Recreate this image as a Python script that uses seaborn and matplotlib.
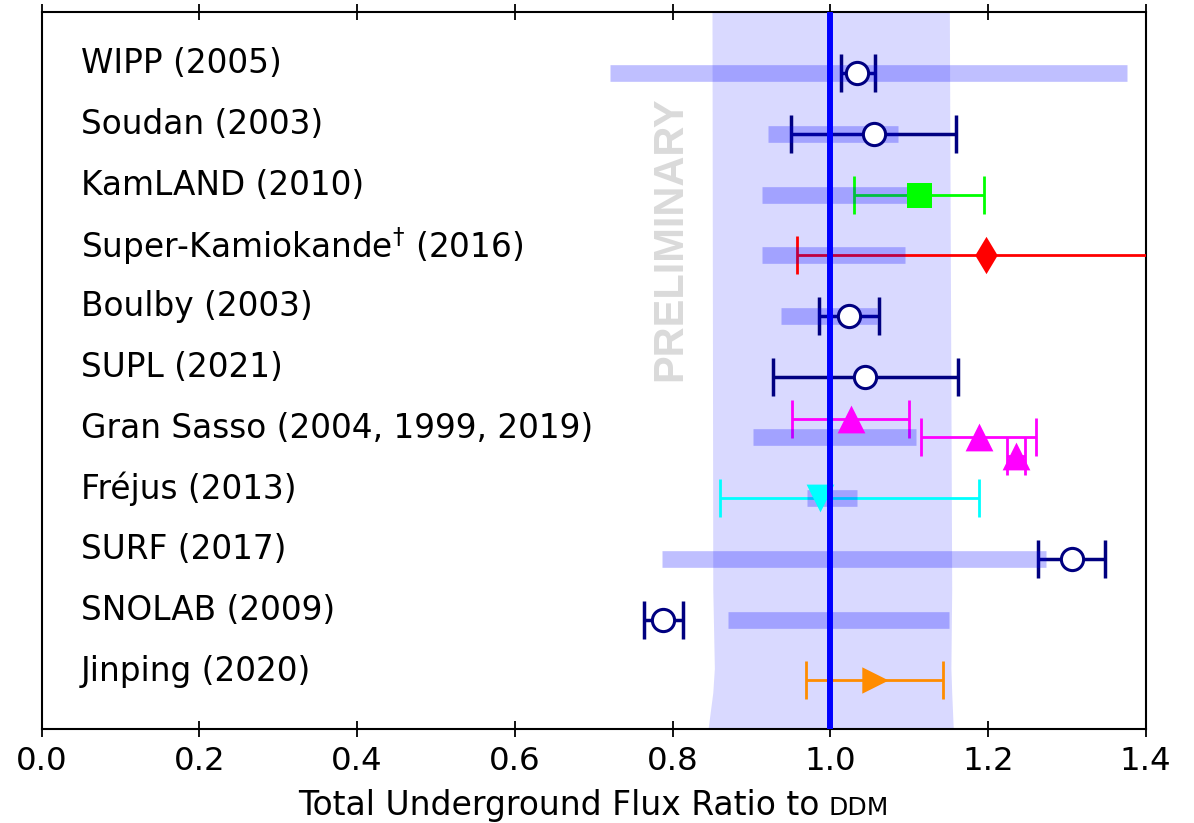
import numpy as np
import pandas as pd
import matplotlib
matplotlib.use("Agg")
import matplotlib.pyplot as plt
import seaborn as sns
from matplotlib.offsetbox import TextArea, HPacker, AnchoredOffsetbox

# ---------------- data ----------------
sites = ["WIPP (2005)", "Soudan (2003)", "KamLAND (2010)",
         "Super-Kamiokande$^{\\dagger}$ (2016)", "Boulby (2003)", "SUPL (2021)",
         "Gran Sasso (2004, 1999, 2019)", "Fréjus (2013)", "SURF (2017)",
         "SNOLAB (2009)", "Jinping (2020)"]

# model prediction ranges (light blue bars); NaN = none shown
model_lo = [0.721, 0.921, 0.914, 0.914, 0.938, np.nan, 0.902, 0.970, 0.786, 0.870, np.nan]
model_hi = [1.376, 1.086, 1.100, 1.095, 1.059, np.nan, 1.109, 1.034, 1.273, 1.151, np.nan]

# measurements
meas_row = [0, 1, 2, 3, 4, 5, 6, 6, 6, 7, 8, 9, 10]
meas_shift = [0, 0, 0, 0, 0, 0, -0.31, 0, 0.31, 0, 0, 0, 0]
meas_val = [1.034, 1.056, 1.112, 1.198, 1.024, 1.044, 1.026, 1.188, 1.236, 0.987, 1.307, 0.788, 1.057]
meas_lo = [1.013, 0.950, 1.030, 0.958, 0.986, 0.927, 0.952, 1.115, 1.224, 0.860, 1.264, 0.764, 0.969]
meas_hi = [1.057, 1.160, 1.195, 1.450, 1.062, 1.162, 1.100, 1.261, 1.247, 1.188, 1.348, 0.813, 1.143]
meas_kind = ["open", "open", "square", "diamond", "open", "open",
             "up", "up", "up", "down", "open", "open", "right"]

# reference band edges
band_y = [-1.0, 8.5, 9.8, 10.2, 10.5, 10.8]
band_lo = [0.850, 0.851, 0.853, 0.851, 0.848, 0.845]
band_hi = [1.151, 1.154, 1.153, 1.154, 1.155, 1.156]

xticks = [0.0, 0.2, 0.4, 0.6, 0.8, 1.0, 1.2, 1.4]

# ---------------- style ----------------
kind_style = {
    "open":    dict(marker="o", color="#000080", s=16**2, lw=2.5, face="white"),
    "square":  dict(marker="s", color="#00ff00", s=18**2, lw=2.0, face=None),
    "diamond": dict(marker="d", color="#ff0000", s=19**2, lw=2.0, face=None),
    "up":      dict(marker="^", color="#ff00ff", s=20**2, lw=2.0, face=None),
    "down":    dict(marker="v", color="#00ffff", s=20**2, lw=2.0, face=None),
    "right":   dict(marker=">", color="#ff8c00", s=19**2, lw=2.0, face=None),
}

sns.set_theme(style="white")
plt.rcParams["font.family"] = ["DejaVu Sans"]
plt.rcParams["mathtext.fontset"] = "dejavusans"
plt.rcParams["axes.edgecolor"] = "black"
plt.rcParams["axes.linewidth"] = 1.5
plt.rcParams["text.color"] = "black"
plt.rcParams["xtick.color"] = "black"
plt.rcParams["xtick.labelcolor"] = "black"

fig = plt.figure(figsize=(11.94, 8.23), dpi=100)
W, H = 1194, 823
ax = fig.add_axes([41.7 / W, 1 - 729 / H, (1145.7 - 41.7) / W, (729 - 12.3) / H])

# band
ax.fill_betweenx(band_y, band_lo, band_hi, color="blue", alpha=0.15, lw=0, zorder=1)

# PRELIMINARY watermark
ax.text(0.797, 2.73, "PRELIMINARY", rotation=90, fontsize=30, fontweight="bold",
        family=["Liberation Sans", "DejaVu Sans"], color="#dadada",
        ha="center", va="center", zorder=1.2)

# errorbars
df = pd.DataFrame(dict(row=meas_row, shift=meas_shift, val=meas_val,
                       lo=meas_lo, hi=meas_hi, kind=meas_kind))
df["y"] = df["row"] + df["shift"]
for _, r in df.iterrows():
    st = kind_style[r["kind"]]
    ax.errorbar(r["val"], r["y"], xerr=[[r["val"] - r["lo"]], [r["hi"] - r["val"]]],
                fmt="none", ecolor=st["color"], elinewidth=st["lw"],
                capsize=14, capthick=st["lw"], zorder=3)

# model bars
rows = np.arange(len(sites))
mask = ~np.isnan(model_lo)
ax.hlines(rows[mask], np.array(model_lo)[mask], np.array(model_hi)[mask],
          colors="blue", alpha=0.25, lw=12, zorder=3.5, capstyle="butt")

# markers via seaborn
for kind, sub in df.groupby("kind"):
    st = kind_style[kind]
    if st["face"] is not None:
        sns.scatterplot(x=sub["val"], y=sub["y"], marker=st["marker"], s=st["s"],
                        facecolor=st["face"], edgecolor=st["color"], linewidth=2.2,
                        ax=ax, zorder=5, legend=False)
    else:
        sns.scatterplot(x=sub["val"], y=sub["y"], marker=st["marker"], s=st["s"],
                        color=st["color"], edgecolor=st["color"], linewidth=0,
                        ax=ax, zorder=5, legend=False)

# reference line
ax.axvline(1.0, color="blue", lw=4.3, zorder=6)

# site labels
for i, name in enumerate(sites):
    ax.text(0.050, i - 0.15, name, fontsize=23.6, ha="left", va="center",
            color="black", zorder=7)

ax.set_xlim(0.0, 1.4)
ax.set_ylim(10.8, -1.0)
ax.set_xticks(xticks)
ax.set_xticklabels([f"{t:.1f}" for t in xticks])
ax.set_yticks([])
ax.set_xlabel("")
ax.set_ylabel("")
ax.tick_params(axis="x", which="both", direction="inout", length=12, width=1.3,
               top=True, bottom=True, labeltop=False, labelsize=23.3, pad=6,
               colors="black")
for sp in ax.spines.values():
    sp.set_visible(True)
    sp.set_color("black")
    sp.set_linewidth(1.5)

# x label with small-caps DDM
t1 = TextArea("Total Underground Flux Ratio to", textprops=dict(fontsize=23.8, color="black"))
t2 = TextArea("DDM", textprops=dict(fontsize=18, color="black"))
box = HPacker(children=[t1, t2], align="baseline", pad=0, sep=7)
anch = AnchoredOffsetbox(loc="lower center", child=box, pad=0, borderpad=0, frameon=False,
                         bbox_to_anchor=(593.5 / W, 1.0 / H),
                         bbox_transform=fig.transFigure)
fig.add_artist(anch)

fig.savefig("out.png", dpi=100)
